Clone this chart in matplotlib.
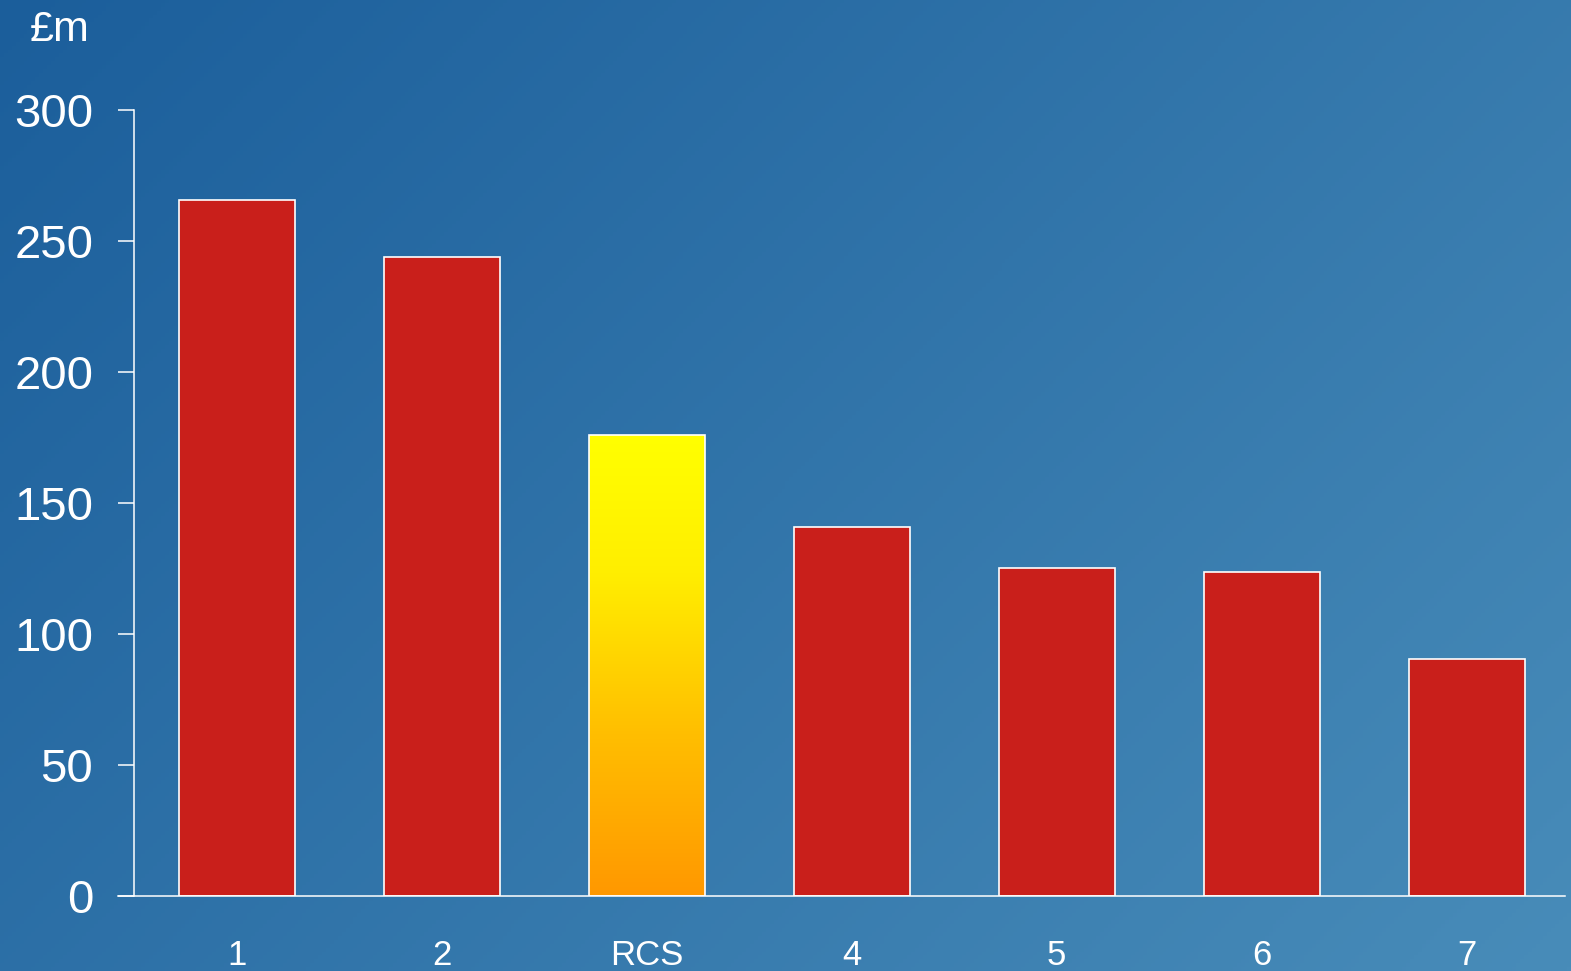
import matplotlib
matplotlib.use("Agg")
import matplotlib.pyplot as plt
import numpy as np
from matplotlib.colors import LinearSegmentedColormap

categories = ["1", "2", "RCS", "4", "5", "6", "7"]
values = [265.6, 243.8, 175.8, 141.0, 125.0, 123.8, 90.6]
highlight = "RCS"
yticks = [0, 50, 100, 150, 200, 250, 300]

plt.rcParams["font.family"] = ["Liberation Sans", "DejaVu Sans"]

fig = plt.figure(figsize=(15.71, 9.71), dpi=100)

# diagonal blue gradient background
bg = fig.add_axes([0, 0, 1, 1], zorder=0)
gx, gy = np.meshgrid(np.linspace(0, 1, 400), np.linspace(0, 1, 250))
t = (gx * 0.62 + gy * 0.38)
c0 = np.array([27, 94, 155]) / 255
c1 = np.array([72, 140, 185]) / 255
img = c0[None, None, :] * (1 - t[..., None]) + c1[None, None, :] * t[..., None]
bg.imshow(img, aspect="auto", extent=[0, 1, 0, 1], origin="upper")
bg.axis("off")

ax = fig.add_axes([0.0751, 0.0773, 0.9211, 0.8094], zorder=1)
ax.patch.set_alpha(0)

x = np.arange(len(categories))
bars = ax.bar(x, values, width=0.565, color="#c91f1b", edgecolor="white", linewidth=1.2, zorder=2)

# RCS bar with yellow->orange gradient
orange_cmap = LinearSegmentedColormap.from_list(
    "rcs", [(0.0, "#ff9800"), (0.35, "#ffbe00"), (0.7, "#ffee00"), (1.0, "#ffff00")])
for b, cat in zip(bars, categories):
    if cat == highlight:
        b.set_facecolor("none")
        x0, y0 = b.get_x(), b.get_y()
        w, h = b.get_width(), b.get_height()
        grad = np.linspace(0, 1, 256).reshape(-1, 1)
        im = ax.imshow(grad, cmap=orange_cmap, aspect="auto", origin="lower",
                       extent=[x0, x0 + w, y0, y0 + h], zorder=1.9)
        im.set_clip_path(b)

ax.set_xlim(-0.579, 6.48)
ax.set_ylim(0, 300)
ax.set_yticks(yticks)
ax.set_xticks(x)
ax.set_xticklabels(categories)

for s in ["top", "right"]:
    ax.spines[s].set_visible(False)
ax.spines["left"].set_position(("data", -0.5))
ax.spines["left"].set_color("white")
ax.spines["bottom"].set_color("white")
ax.spines["left"].set_linewidth(1.1)
ax.spines["bottom"].set_linewidth(1.1)

ax.tick_params(axis="y", colors="white", labelsize=34, length=11.5, width=1.1, pad=18)
ax.tick_params(axis="x", colors="white", labelsize=25, length=0, pad=31)

fig.text(0.019, 0.958, "£m", color="white", fontsize=31, ha="left", va="baseline")

plt.savefig("out.png", dpi=100)
